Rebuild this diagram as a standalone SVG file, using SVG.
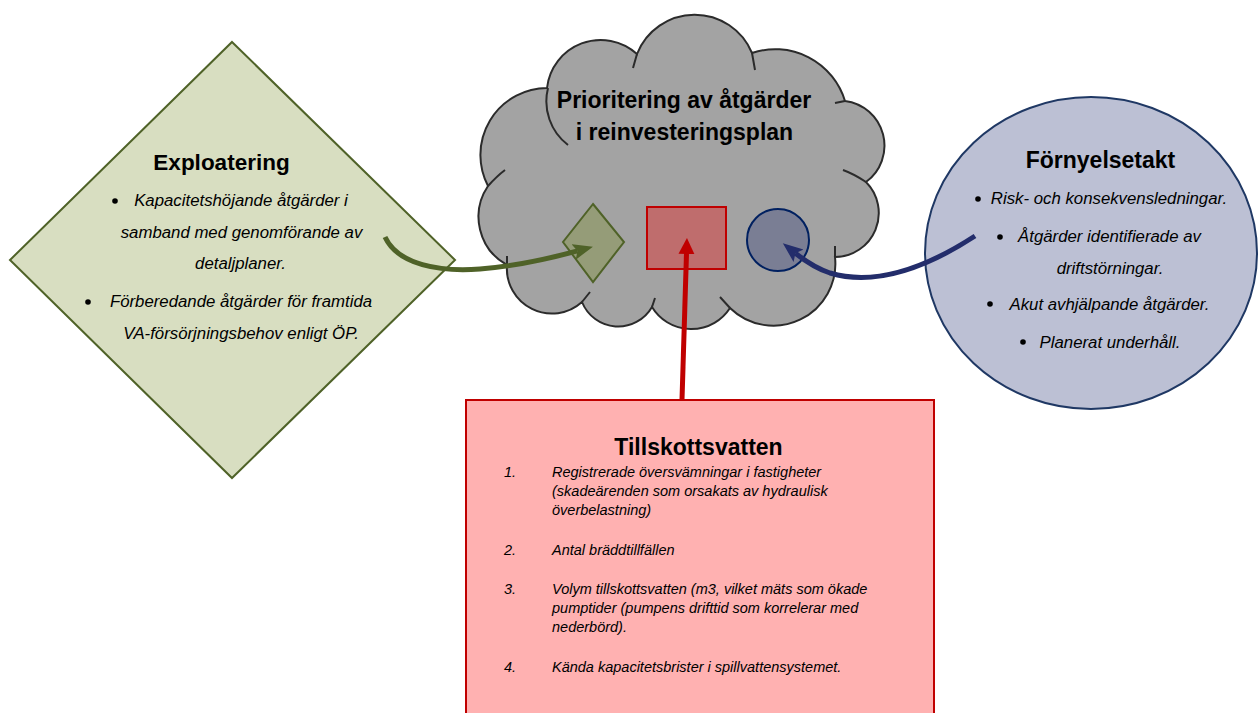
<svg xmlns="http://www.w3.org/2000/svg" width="1259" height="713" viewBox="0 0 1259 713">
<style>
.title{font-family:"Liberation Sans",Arial,sans-serif;font-weight:bold;font-size:23px;fill:#000;text-anchor:middle}
.body{font-family:"Liberation Sans",Arial,sans-serif;font-style:italic;font-size:16.8px;fill:#000;text-anchor:middle}
.list{font-family:"Liberation Sans",Arial,sans-serif;font-style:italic;font-size:14.5px;fill:#000}
.dot{fill:#000}
.tick{fill:none;stroke:#2b2b2b;stroke-width:2}
.conn{fill:none;stroke-width:5}
</style>
<defs>
<marker id="hGreen" markerUnits="userSpaceOnUse" markerWidth="22" markerHeight="18" refX="4" refY="8" orient="auto" viewBox="0 0 22 18"><path d="M0,0 L20,8 L0,16 L4,8 Z" fill="#4f6228"/></marker>
<marker id="hBlue" markerUnits="userSpaceOnUse" markerWidth="22" markerHeight="18" refX="4" refY="8" orient="auto" viewBox="0 0 22 18"><path d="M0,0 L20,8 L0,16 L4,8 Z" fill="#232d6b"/></marker>
<marker id="hRed" markerUnits="userSpaceOnUse" markerWidth="18" markerHeight="18" refX="1" refY="8" orient="auto" viewBox="0 0 18 18"><path d="M0,0 L16,8 L0,16 Z" fill="#c00000"/></marker>
</defs>

<g id="exploatering">
<polygon points="232,42 455,260 232,478 10,260" fill="#d8dec1" stroke="#4f6228" stroke-width="2"/>
<text class="title" x="221.5" y="170" style="font-size:22.5px">Exploatering</text>
<circle class="dot" cx="115" cy="201" r="2.8"/>
<text class="body" x="241" y="206">Kapacitetshöjande åtgärder i</text>
<text class="body" x="241.5" y="238">samband med genomförande av</text>
<text class="body" x="240.5" y="269">detaljplaner.</text>
<circle class="dot" cx="88" cy="302" r="2.8"/>
<text class="body" x="241" y="307">Förberedande åtgärder för framtida</text>
<text class="body" x="241" y="339">VA-försörjningsbehov enligt ÖP.</text>
</g>

<g id="fornyelsetakt">
<ellipse cx="1091" cy="253" rx="166" ry="156" fill="#bcc0d4" stroke="#1f3864" stroke-width="2"/>
<text class="title" x="1100.5" y="168">Förnyelsetakt</text>
<circle class="dot" cx="978" cy="199" r="2.8"/>
<text class="body" x="1109" y="204">Risk- och konsekvensledningar.</text>
<circle class="dot" cx="1000" cy="237" r="2.8"/>
<text class="body" x="1109.5" y="242">Åtgärder identifierade av</text>
<text class="body" x="1110" y="274">driftstörningar.</text>
<circle class="dot" cx="990" cy="304" r="2.8"/>
<text class="body" x="1109.5" y="310">Akut avhjälpande åtgärder.</text>
<circle class="dot" cx="1023" cy="342" r="2.8"/>
<text class="body" x="1110" y="348">Planerat underhåll.</text>
</g>

<g id="tillskottsvatten">
<rect x="466" y="400" width="468" height="330" fill="#ffb1b1" stroke="#c00000" stroke-width="2"/>
<text class="title" x="698.5" y="455">Tillskottsvatten</text>
<text class="list" x="504" y="477">1.</text>
<text class="list" x="552" y="477">Registrerade översvämningar i fastigheter</text>
<text class="list" x="552" y="496">(skadeärenden som orsakats av hydraulisk</text>
<text class="list" x="552" y="515">överbelastning)</text>
<text class="list" x="504" y="555">2.</text>
<text class="list" x="552" y="555">Antal bräddtillfällen</text>
<text class="list" x="504" y="594">3.</text>
<text class="list" x="552" y="594">Volym tillskottsvatten (m3, vilket mäts som ökade</text>
<text class="list" x="552" y="613">pumptider (pumpens drifttid som korrelerar med</text>
<text class="list" x="552" y="632">nederbörd).</text>
<text class="list" x="504" y="672">4.</text>
<text class="list" x="552" y="672">Kända kapacitetsbrister i spillvattensystemet.</text>
</g>

<g id="cloud">
<path d="M507,265 A55,55 0 0 1 488,186 A67,67 0 0 1 547,88 A54,54 0 0 1 637,54 A62,62 0 0 1 752,53 A73,73 0 0 1 845,101 A45,45 0 0 1 866,182 A44,44 0 0 1 835,257 A62,62 0 0 1 730,308 A46,46 0 0 1 652,307 A39,39 0 0 1 582,302 A45,45 0 0 1 507,265 Z" fill="#a3a3a3" stroke="#2b2b2b" stroke-width="2"/>
<path class="tick" d="M507,265 L507,256 M488,186 Q497,176 505,170 M548,88 A55,55 0 0 0 568,145 M637,54 L633,68 M752,53 L755,70 M845,101 L835,103 M866,182 Q854,174 843,170 M835,257 L835,246 M730,308 L720,297 M652,307 L655,298 M582,302 L590,292"/>
<text class="title" x="684" y="108">Prioritering av åtgärder</text>
<text class="title" x="684.5" y="140">i reinvesteringsplan</text>
</g>

<g id="mini-exploatering">
<polygon points="593,204 624,242 593,282 563,242" fill="#959c78" stroke="#4f6228" stroke-width="2"/>
</g>
<g id="mini-tillskottsvatten">
<rect x="647" y="207" width="79" height="62" fill="#bf6d6d" stroke="#c00000" stroke-width="2"/>
</g>
<g id="mini-fornyelsetakt">
<circle cx="778" cy="240" r="31" fill="#7a7e94" stroke="#002060" stroke-width="2"/>
</g>

<g id="connectors">
<path class="conn" d="M385,237 C398,265 440,272 480,269 C520,266 555,257 577.5,250.9" stroke="#4f6228" marker-end="url(#hGreen)"/>
<path class="conn" d="M975,236 C935,262 880,288 830,273 C815,268 804,260 795.4,253.2" stroke="#232d6b" marker-end="url(#hBlue)"/>
<path class="conn" d="M682,400 L686.5,253" stroke="#c00000" stroke-width="4" marker-end="url(#hRed)"/>
</g>
</svg>
